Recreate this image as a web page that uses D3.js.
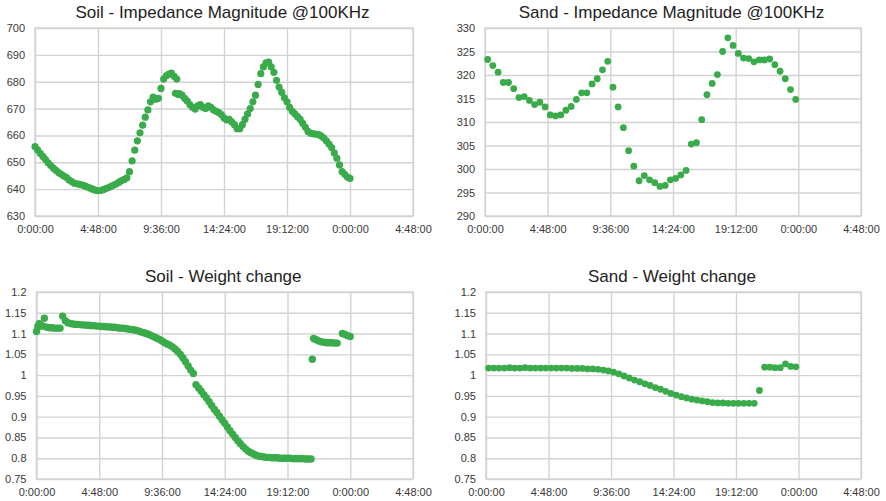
<!DOCTYPE html>
<html>
<head>
<meta charset="utf-8">
<script src="https://cdn.jsdelivr.net/npm/d3@7"></script>
<style>
  html, body { margin: 0; padding: 0; background: #fff; }
  svg { display: block; }
  text { font-family: "Liberation Sans", Arial, Helvetica, sans-serif; }
</style>
</head>
<body>
<svg id="chart" width="886" height="501"></svg>
<script>
// ---- shared time axis (hours since start, labelled as clock time) ----
const timeTickHours  = [0, 4.8, 9.6, 14.4, 19.2, 24, 28.8];
const timeTickLabels = ["0:00:00", "4:48:00", "9:36:00", "14:24:00", "19:12:00", "0:00:00", "4:48:00"];

// ---- value axes ----
const soilImpedanceTicks = [630, 640, 650, 660, 670, 680, 690, 700];
const sandImpedanceTicks = [290, 295, 300, 305, 310, 315, 320, 325, 330];
const weightTicks        = [0.75, 0.8, 0.85, 0.9, 0.95, 1, 1.05, 1.1, 1.15, 1.2];
const weightTickLabels   = ["0.75", "0.8", "0.85", "0.9", "0.95", "1", "1.05", "1.1", "1.15", "1.2"];

// ---- Soil: impedance magnitude @100kHz, logged every 12 min from 0:00 ----
const soilImpedanceStart = 0, soilImpedanceStep = 0.2;
const soilImpedance = [
  655.8, 654.6, 653.3, 652.2, 651.0, 649.8, 648.8, 647.8, 647.0, 646.2,
  645.5, 644.9, 644.3, 643.4, 642.8, 642.2, 642.0, 641.8, 641.5, 641.2,
  640.8, 640.4, 640.0, 639.6, 639.4, 639.5, 639.8, 640.2, 640.6, 641.0,
  641.5, 642.0, 642.6, 643.2, 643.6, 644.2, 646.5, 650.5, 654.5, 658.0,
  661.0, 663.8, 666.8, 669.5, 672.5, 674.3, 673.5, 673.8, 677.5, 681.0,
  682.2, 682.8, 683.2, 682.0, 681.0, 675.6, 675.0, 673.8, 672.8, 671.5,
  670.5, 669.8, 671.0, 671.5, 670.5, 670.0, 671.0, 670.5, 669.5, 669.0,
  668.5, 667.8, 666.5, 665.8, 666.0, 665.0, 664.0, 662.5, 662.5, 664.0,
  666.0, 668.0, 670.0, 672.5, 675.0, 679.0, 683.0, 685.5, 687.0, 687.3,
  685.5, 683.5, 680.5, 678.0, 676.0, 674.0, 672.5, 670.5, 669.0, 668.0,
  667.0, 666.0, 664.5, 663.0, 661.5, 660.8, 660.6, 660.5, 660.3, 659.8,
  659.0, 658.0, 656.8, 655.5, 653.5, 651.5, 649.0, 646.5, 645.5, 644.5,
  644.0
];
// extra readings logged out of step near the first peak
const soilImpedanceExtraTimes  = [10.7, 10.9];
const soilImpedanceExtraValues = [675.7, 675.2];

// ---- Sand: impedance magnitude @100kHz, logged every 24 min from 0:12 ----
const sandImpedanceStart = 0.2, sandImpedanceStep = 0.4;
const sandImpedance = [
  323.3, 322.0, 320.6, 318.4, 318.4, 317.1, 315.2, 315.4, 314.6, 313.7,
  314.2, 313.2, 311.5, 311.3, 311.5, 312.5, 313.3, 314.8, 316.2, 316.2,
  318.1, 319.2, 321.1, 322.9, 317.4, 313.2, 308.8, 303.9, 300.6, 297.5,
  298.6, 297.7, 297.1, 296.3, 296.5, 297.7, 298.0, 298.75, 299.7, 305.3,
  305.6, 310.5, 315.8, 318.2, 320.1, 325.0, 327.9, 326.3, 324.6, 323.6,
  323.5, 322.8, 323.2, 323.2, 323.4, 322.2, 320.8, 319.2, 316.9, 314.8
];

// ---- Soil: relative weight, every 12 min from 0:00 (null = no reading) ----
const soilWeightStart = 0, soilWeightStep = 0.2;
const soilWeight = [
  1.105, 1.124, 1.118, 1.137, 1.115, 1.114, 1.114, 1.113, 1.113, 1.113,
  1.142, 1.131, 1.126, 1.124, 1.123, 1.122, 1.122, 1.121, 1.121, 1.120,
  1.120, 1.119, 1.119, 1.118, 1.118, 1.117, 1.117, 1.116, 1.116, 1.115,
  1.115, 1.114, 1.113, 1.113, 1.112, 1.111, 1.110, 1.109, 1.108, 1.106,
  1.104, 1.102, 1.100, 1.098, 1.095, 1.092, 1.089, 1.086, 1.082, 1.078,
  1.075, 1.072, 1.068, 1.063, 1.057, 1.050, 1.041, 1.032, 1.022, 1.012,
  1.004, 0.977, 0.969, 0.961, 0.953, 0.945, 0.936, 0.927, 0.918, 0.910,
  0.901, 0.892, 0.884, 0.875, 0.866, 0.858, 0.850, 0.842, 0.835, 0.828,
  0.822, 0.817, 0.813, 0.810, 0.807, 0.805, 0.804, 0.803, 0.802, 0.802,
  0.801, 0.801, 0.801, 0.800, 0.800, 0.800, 0.800, 0.800, 0.799, 0.799,
  0.799, 0.799, 0.799, 0.798, 0.798, 0.798, 1.088, 1.085, 1.082, 1.080,
  1.079, 1.078, 1.078, 1.078, 1.077, 1.077, null, 1.100, 1.098, 1.095,
  1.093
];
const soilWeightExtraTimes  = [0.1, 0.3, 0.5, 21.1];
const soilWeightExtraValues = [1.117, 1.121, 1.118, 1.038];

// ---- Sand: relative weight, every 24 min from 0:12 ----
const sandWeightStart = 0.2, sandWeightStep = 0.4;
const sandWeight = [
  1.017, 1.017, 1.017, 1.017, 1.018, 1.017, 1.017, 1.018, 1.017, 1.017,
  1.017, 1.017, 1.017, 1.017, 1.017, 1.017, 1.016, 1.016, 1.016, 1.015,
  1.015, 1.014, 1.012, 1.010, 1.007, 1.003, 0.998, 0.993, 0.988, 0.984,
  0.979, 0.975, 0.970, 0.966, 0.961, 0.956, 0.952, 0.948, 0.945, 0.942,
  0.940, 0.938, 0.936, 0.934, 0.933, 0.933, 0.932, 0.932, 0.932, 0.932,
  0.932, 0.932, 0.963, 1.019, 1.019, 1.018, 1.018, 1.027, 1.021, 1.020
];

// Turn a regularly logged series (plus any extra readings) into points.
function toPoints(start, step, values, extraTimes = [], extraValues = []) {
  const pts = [];
  values.forEach((v, i) => { if (v !== null) pts.push({ t: start + i * step, v }); });
  extraTimes.forEach((t, i) => pts.push({ t, v: extraValues[i] }));
  return pts;
}

const panels = [
  {
    title: "Soil - Impedance Magnitude @100KHz",
    box: { left: 35, right: 413, top: 28, bottom: 216 }, radius: 3.6,
    yTicks: soilImpedanceTicks, yLabels: soilImpedanceTicks.map(String),
    points: toPoints(soilImpedanceStart, soilImpedanceStep, soilImpedance,
                     soilImpedanceExtraTimes, soilImpedanceExtraValues)
  },
  {
    title: "Sand - Impedance Magnitude @100KHz",
    box: { left: 485, right: 861, top: 28, bottom: 216 }, radius: 3.4,
    yTicks: sandImpedanceTicks, yLabels: sandImpedanceTicks.map(String),
    points: toPoints(sandImpedanceStart, sandImpedanceStep, sandImpedance)
  },
  {
    title: "Soil - Weight change",
    box: { left: 36.5, right: 413, top: 292, bottom: 479 }, radius: 3.7,
    yTicks: weightTicks, yLabels: weightTickLabels,
    points: toPoints(soilWeightStart, soilWeightStep, soilWeight,
                     soilWeightExtraTimes, soilWeightExtraValues)
  },
  {
    title: "Sand - Weight change",
    box: { left: 486, right: 861, top: 292, bottom: 479 }, radius: 3.4,
    yTicks: weightTicks, yLabels: weightTickLabels,
    points: toPoints(sandWeightStart, sandWeightStep, sandWeight)
  }
];

const GRID = "#d3d3d3";
const TEXT = "#383838";
const DOT  = "#3aab4b";

const svg = d3.select("#chart");

panels.forEach(p => {
  const b = p.box;
  const w = b.right - b.left, h = b.bottom - b.top;
  const x = d3.scaleLinear().domain([timeTickHours[0], timeTickHours[timeTickHours.length - 1]]).range([b.left, b.right]);
  const y = d3.scaleLinear().domain([p.yTicks[0], p.yTicks[p.yTicks.length - 1]]).range([b.bottom, b.top]);

  const g = svg.append("g");

  // horizontal grid + value labels
  const yAxis = g.append("g")
    .attr("transform", `translate(${b.left},0)`)
    .call(d3.axisLeft(y).tickValues(p.yTicks)
      .tickFormat((d, i) => p.yLabels[i])
      .tickSize(-w).tickPadding(10));

  // vertical grid + time labels
  const xAxis = g.append("g")
    .attr("transform", `translate(0,${b.bottom})`)
    .call(d3.axisBottom(x).tickValues(timeTickHours)
      .tickFormat((d, i) => timeTickLabels[i])
      .tickSize(-h).tickPadding(9));

  [xAxis, yAxis].forEach(a => {
    a.select(".domain").remove();
    a.selectAll(".tick line").attr("stroke", GRID).attr("stroke-width", 1.4);
    a.selectAll(".tick text").attr("fill", TEXT).style("font-size", "11px");
  });

  // plot frame
  g.append("rect")
    .attr("x", b.left).attr("y", b.top).attr("width", w).attr("height", h)
    .attr("fill", "none").attr("stroke", GRID).attr("stroke-width", 1.4);

  // title
  g.append("text")
    .attr("x", (b.left + b.right) / 2 - 1.5)
    .attr("y", b.top - 10)
    .attr("text-anchor", "middle")
    .attr("fill", "#222")
    .style("font-size", "17px")
    .text(p.title);

  // readings
  g.append("g").selectAll("circle")
    .data(p.points)
    .join("circle")
    .attr("cx", d => x(d.t))
    .attr("cy", d => y(d.v))
    .attr("r", p.radius)
    .attr("fill", DOT);
});
</script>
</body>
</html>
